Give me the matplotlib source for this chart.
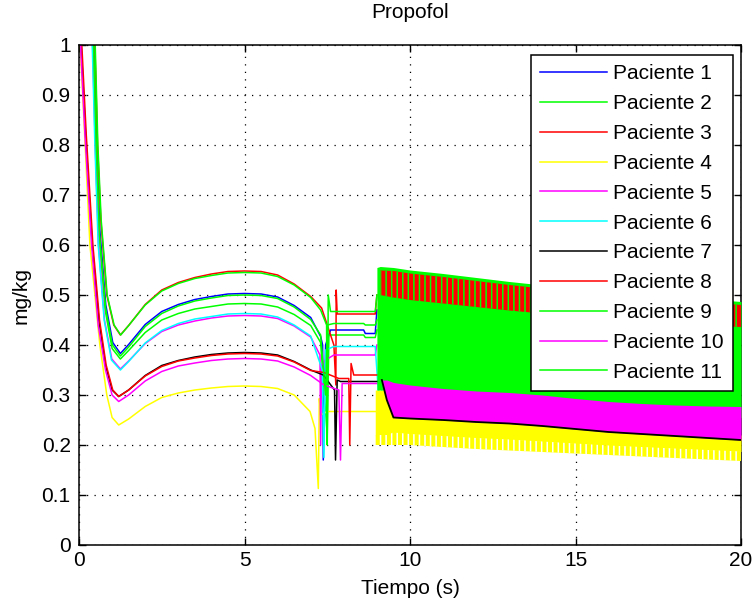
import matplotlib
matplotlib.use("Agg")
import matplotlib.pyplot as plt

plt.rcParams['font.family'] = ['Liberation Sans', 'DejaVu Sans']
plt.rcParams['hatch.linewidth'] = 1.1

# ---- patient curves (time in s, concentration in mg/kg) ----
t_rise_up = [1.5, 2, 2.5, 3, 3.5, 4, 4.5, 5, 5.5, 6, 6.5, 7.0]

t_p1 = [0, 0.37, 0.45, 0.53, 0.63, 0.81, 1.02, 1.25] + t_rise_up + [7.3, 7.36, 7.38, 7.45, 7.6, 8.6, 8.65, 8.95, 9.0]
v_p1 = [1.4, 1.1, 1.0, 0.8, 0.63, 0.48, 0.405, 0.383,
        0.401, 0.441, 0.467, 0.481, 0.491, 0.497, 0.502, 0.503, 0.502, 0.496, 0.479, 0.455,
        0.417, 0.40, 0.17, 0.40, 0.43, 0.43, 0.423, 0.423, 0.47]

t_p2 = [0, 0.35, 0.43, 0.51, 0.61, 0.79, 1.0, 1.25] + t_rise_up + [7.3, 7.5, 7.55, 7.7, 8.6, 8.65, 8.95, 9.0]
v_p2 = [1.4, 1.1, 1.0, 0.8, 0.62, 0.47, 0.393, 0.372,
        0.389, 0.425, 0.450, 0.463, 0.472, 0.477, 0.482, 0.483, 0.482, 0.476, 0.461, 0.439,
        0.405, 0.22, 0.42, 0.42, 0.42, 0.415, 0.415, 0.43]

t_p3 = [0, 0.40, 0.48, 0.56, 0.66, 0.84, 1.05, 1.25] + t_rise_up + [7.33, 7.55, 7.7, 7.76, 7.77, 7.8, 8.95, 9.0]
v_p3 = [1.4, 1.1, 1.0, 0.8, 0.65, 0.50, 0.44, 0.420,
        0.439, 0.481, 0.510, 0.525, 0.535, 0.542, 0.547, 0.548, 0.547, 0.540, 0.522, 0.497,
        0.474, 0.43, 0.40, 0.32, 0.51, 0.462, 0.462, 0.50]

t_p4 = [0, 0.05, 0.15, 0.33, 0.63, 0.84, 1.0, 1.2, 1.5, 2, 2.5, 3, 3.5, 4, 4.5, 5, 5.5, 6, 6.5,
        6.98, 7.13, 7.23, 7.26, 7.3, 7.5, 7.9, 8.95]
v_p4 = [1.1, 0.98, 0.85, 0.60, 0.40, 0.30, 0.255, 0.240, 0.252, 0.277, 0.295, 0.304, 0.310, 0.314,
        0.317, 0.318, 0.317, 0.313, 0.300, 0.267, 0.233, 0.113, 0.293, 0.26, 0.267, 0.267, 0.267]

t_p5 = [0, 0.33, 0.41, 0.49, 0.59, 0.77, 0.99, 1.25] + t_rise_up + [7.28, 7.3, 7.33, 7.45, 7.7, 8.95, 9.0]
v_p5 = [1.4, 1.1, 1.0, 0.8, 0.6, 0.45, 0.372, 0.352,
        0.368, 0.403, 0.427, 0.440, 0.448, 0.454, 0.458, 0.459, 0.458, 0.453, 0.438, 0.416,
        0.38, 0.2, 0.36, 0.37, 0.38, 0.38, 0.40]

t_p6 = [0, 0.32, 0.40, 0.48, 0.58, 0.76, 0.98, 1.25] + t_rise_up + [7.35, 7.4, 7.45, 7.7, 8.95, 9.05, 9.1, 9.15]
v_p6 = [1.4, 1.1, 1.0, 0.8, 0.6, 0.45, 0.37, 0.350,
        0.367, 0.404, 0.429, 0.443, 0.452, 0.457, 0.462, 0.463, 0.462, 0.456, 0.440, 0.418,
        0.35, 0.175, 0.39, 0.397, 0.397, 0.30, 0.45, 0.30]

t_rise_lo = [1.5, 2, 2.5, 3, 3.5, 4, 4.5, 5, 5.5, 6, 6.5, 7.0]

t_p7 = [0, 0.08, 0.2, 0.4, 0.6, 0.8, 1.0, 1.2] + t_rise_lo + [7.38, 7.72, 7.75, 7.8, 7.9, 9.05]
v_p7 = [1.1, 0.98, 0.82, 0.6, 0.45, 0.36, 0.31, 0.297,
        0.310, 0.339, 0.359, 0.369, 0.376, 0.381, 0.384, 0.385, 0.384, 0.380, 0.367, 0.350,
        0.34, 0.31, 0.17, 0.33, 0.327, 0.327]

t_p8 = [0, 0.1, 0.22, 0.42, 0.62, 0.82, 1.02, 1.2] + t_rise_lo + [7.4, 7.85, 8.15, 8.18, 8.22, 8.3, 8.4, 9.0]
v_p8 = [1.1, 0.98, 0.82, 0.6, 0.45, 0.36, 0.31, 0.297,
        0.310, 0.338, 0.357, 0.368, 0.374, 0.379, 0.382, 0.383, 0.382, 0.378, 0.366, 0.349,
        0.345, 0.333, 0.333, 0.2, 0.363, 0.34, 0.34, 0.34]

t_p9 = [0, 0.41, 0.49, 0.57, 0.67, 0.85, 1.06, 1.26] + t_rise_up + [7.3, 7.48, 7.5, 7.53, 7.6, 8.95, 9.0]
v_p9 = [1.4, 1.1, 1.0, 0.8, 0.65, 0.50, 0.44, 0.420,
        0.439, 0.480, 0.508, 0.523, 0.533, 0.539, 0.544, 0.545, 0.544, 0.537, 0.520, 0.495,
        0.47, 0.44, 0.2, 0.5, 0.467, 0.467, 0.5]

t_p10 = [0, 0.06, 0.18, 0.38, 0.58, 0.8, 1.0, 1.2] + t_rise_lo + [7.4, 7.85, 7.9, 7.95, 8.1, 9.0]
v_p10 = [1.1, 0.98, 0.82, 0.6, 0.44, 0.35, 0.30, 0.287,
         0.300, 0.328, 0.347, 0.358, 0.364, 0.369, 0.372, 0.373, 0.372, 0.368, 0.356, 0.339,
         0.32, 0.31, 0.17, 0.323, 0.323, 0.323]

t_p11 = [0, 0.36, 0.44, 0.52, 0.62, 0.80, 1.01, 1.25] + t_rise_up + [7.3, 7.45, 7.5, 7.7, 8.6, 8.65, 8.95, 9.0]
v_p11 = [1.4, 1.1, 1.0, 0.8, 0.62, 0.475, 0.40, 0.378,
         0.396, 0.437, 0.463, 0.478, 0.488, 0.494, 0.499, 0.500, 0.499, 0.493, 0.476, 0.451,
         0.42, 0.3, 0.44, 0.443, 0.443, 0.44, 0.44, 0.45]

# ---- oscillating part after ~9 s, read as envelopes ----
band_t = [9.0, 9.1, 9.5, 10, 11, 12, 13, 14, 15, 16, 17, 18, 19, 20]
green_hi = [0.555, 0.557, 0.555, 0.55, 0.543, 0.535, 0.527, 0.52, 0.513, 0.507, 0.502, 0.497, 0.492, 0.487]
green_lo = [0.31, 0.31, 0.31, 0.30, 0.29, 0.285, 0.28, 0.275, 0.27, 0.265, 0.26, 0.258, 0.256, 0.255]
red_hi = [0.53, 0.549, 0.548, 0.543, 0.536, 0.528, 0.520, 0.513, 0.506, 0.500, 0.495, 0.490, 0.485, 0.480]
red_lo = [0.50, 0.50, 0.495, 0.49, 0.483, 0.476, 0.469, 0.463, 0.457, 0.452, 0.447, 0.443, 0.439, 0.436]

mag_t = [9.15, 9.3, 9.5, 10, 11, 12, 13, 14, 15, 16, 17, 18, 19, 20]
mag_hi = [0.33, 0.33, 0.325, 0.32, 0.313, 0.308, 0.305, 0.30, 0.293, 0.287, 0.283, 0.28, 0.278, 0.277]
black_line = [0.33, 0.29, 0.255, 0.253, 0.25, 0.246, 0.243, 0.238, 0.232, 0.226, 0.222, 0.218, 0.214, 0.21]

yel_t = [8.95, 9.0, 9.3, 9.5, 10, 11, 12, 13, 14, 15, 16, 17, 18, 19, 20]
yel_hi = [0.31, 0.31, 0.31, 0.27, 0.265, 0.26, 0.256, 0.253, 0.248, 0.242, 0.236, 0.232, 0.228, 0.224, 0.22]
yel_mid = [0.22, 0.22, 0.22, 0.225, 0.222, 0.218, 0.214, 0.211, 0.207, 0.203, 0.199, 0.196, 0.193, 0.19, 0.187]
yel_lo = [0.2, 0.2, 0.2, 0.2, 0.2, 0.196, 0.192, 0.189, 0.186, 0.183, 0.18, 0.177, 0.174, 0.171, 0.168]

labels = ['Paciente %d' % i for i in range(1, 12)]
colors = ['#0000ff', '#00ff00', '#ff0000', '#ffff00', '#ff00ff', '#00ffff',
          '#000000', '#ff0000', '#00ff00', '#ff00ff', '#00ff00']


def main():
    fig = plt.figure(figsize=(7.54, 6.04), dpi=100)
    ax = fig.add_axes([79/754, 59/604, 662/754, 500/604])

    curves = [(t_p1, v_p1), (t_p2, v_p2), (t_p3, v_p3), (t_p4, v_p4), (t_p5, v_p5), (t_p6, v_p6),
              (t_p7, v_p7), (t_p8, v_p8), (t_p9, v_p9), (t_p10, v_p10), (t_p11, v_p11)]
    handles = []
    for (t, v), c, lab in zip(curves, colors, labels):
        h, = ax.plot(t, v, color=c, lw=1.1, label=lab, zorder=2)
        handles.append(h)

    # dense oscillation region, drawn as its envelopes
    ax.fill_between(yel_t, yel_mid, yel_hi, color='#ffff00', lw=0, zorder=3)
    ax.fill_between(yel_t, yel_lo, yel_mid, facecolor='#ffff00', edgecolor='white',
                    hatch='|||', lw=0, zorder=3)
    ax.fill_between(band_t, green_lo, green_hi, color='#00ff00', lw=0, zorder=3)
    ax.fill_between(band_t[1:], red_lo[1:], red_hi[1:], facecolor='#ff0000',
                    edgecolor='#00ff00', hatch='|||', lw=0, zorder=3)
    ax.fill_between(mag_t, black_line, mag_hi, color='#ff00ff', lw=0, zorder=4)
    ax.plot(mag_t, black_line, color='black', lw=1.3, zorder=5)

    ax.set_xlim(0, 20)
    ax.set_ylim(0, 1)
    ax.set_xticks([0, 5, 10, 15, 20])
    ax.set_yticks([i / 10 for i in range(11)])
    ax.set_yticklabels(['0', '0.1', '0.2', '0.3', '0.4', '0.5', '0.6', '0.7', '0.8', '0.9', '1'])
    ax.tick_params(direction='in', length=5, width=1, top=True, right=True,
                   labelsize=15, colors='black')
    ax.tick_params(axis='y', pad=6)
    ax.tick_params(axis='x', pad=4)
    ax.grid(True, color='black', linestyle=(0, (1, 5)), linewidth=0.9, zorder=1)
    ax.set_axisbelow(True)
    for s in ax.spines.values():
        s.set_linewidth(1.1)

    ax.set_xlabel('Tiempo (s)', fontsize=15, labelpad=7)
    ax.set_ylabel('mg/kg', fontsize=15, labelpad=8)
    fig.text(410/754, 1 - 13/604, 'Propofol', ha='center', va='center', fontsize=15)

    leg = ax.legend(handles=handles, loc='upper right', bbox_to_anchor=(0.988, 0.98),
                    borderaxespad=0, fontsize=15, handlelength=3.2, handletextpad=0.3,
                    labelspacing=0.52, borderpad=0.45, fancybox=False, framealpha=1,
                    edgecolor='black')
    leg.get_frame().set_linewidth(1.1)
    leg.set_zorder(10)

    fig.savefig('out.png', dpi=100)


if __name__ == "__main__":
    main()
